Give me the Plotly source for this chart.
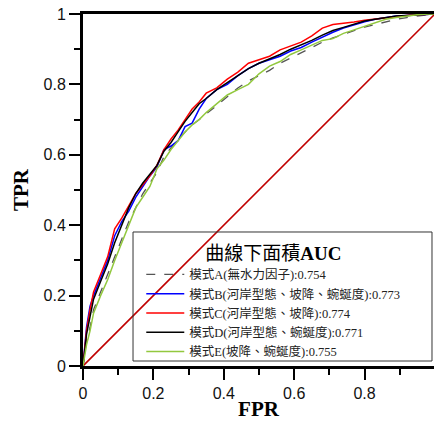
import plotly.graph_objects as go

fpr = [0, 0.01, 0.02, 0.03, 0.05, 0.07, 0.09, 0.11, 0.13, 0.15, 0.17, 0.19, 0.21, 0.23, 0.25,
       0.27, 0.29, 0.31, 0.33, 0.35, 0.38, 0.41, 0.44, 0.47, 0.50, 0.53, 0.56, 0.59, 0.62, 0.65,
       0.68, 0.71, 0.74, 0.77, 0.80, 0.83, 0.86, 0.89, 0.92, 0.95, 0.98, 1.0]

tpr_a = [0, 0.07, 0.11, 0.16, 0.21, 0.26, 0.31, 0.36, 0.41, 0.45, 0.49, 0.52, 0.55, 0.595, 0.62,
         0.645, 0.665, 0.685, 0.70, 0.715, 0.74, 0.765, 0.79, 0.81, 0.825, 0.84, 0.86, 0.875, 0.89, 0.905,
         0.92, 0.932, 0.943, 0.953, 0.963, 0.97, 0.978, 0.985, 0.99, 0.995, 0.998, 1.0]
tpr_b = [0, 0.11, 0.17, 0.20, 0.25, 0.30, 0.37, 0.41, 0.44, 0.48, 0.51, 0.54, 0.565, 0.615, 0.625,
         0.64, 0.68, 0.69, 0.73, 0.76, 0.785, 0.80, 0.825, 0.845, 0.86, 0.87, 0.88, 0.895, 0.905, 0.92,
         0.935, 0.948, 0.96, 0.97, 0.978, 0.985, 0.99, 0.994, 0.996, 0.998, 1.0, 1.0]
tpr_c = [0, 0.10, 0.16, 0.21, 0.26, 0.31, 0.39, 0.42, 0.455, 0.49, 0.515, 0.54, 0.57, 0.615, 0.645,
         0.67, 0.70, 0.73, 0.75, 0.775, 0.79, 0.815, 0.835, 0.86, 0.87, 0.88, 0.898, 0.91, 0.92, 0.938,
         0.96, 0.97, 0.973, 0.977, 0.982, 0.986, 0.99, 0.994, 0.996, 0.998, 1.0, 1.0]
tpr_d = [0, 0.09, 0.14, 0.19, 0.24, 0.29, 0.35, 0.40, 0.45, 0.49, 0.52, 0.545, 0.57, 0.61, 0.635,
         0.665, 0.695, 0.72, 0.745, 0.76, 0.785, 0.805, 0.825, 0.845, 0.86, 0.872, 0.885, 0.90, 0.912, 0.925,
         0.94, 0.953, 0.962, 0.972, 0.98, 0.985, 0.99, 0.994, 0.996, 0.998, 1.0, 1.0]
tpr_e = [0, 0.06, 0.10, 0.15, 0.20, 0.245, 0.30, 0.35, 0.40, 0.45, 0.48, 0.51, 0.56, 0.585, 0.615,
         0.64, 0.665, 0.685, 0.70, 0.72, 0.745, 0.77, 0.785, 0.80, 0.83, 0.852, 0.865, 0.885, 0.898, 0.912,
         0.925, 0.93, 0.945, 0.955, 0.965, 0.976, 0.985, 0.99, 0.995, 0.998, 1.0, 1.0]

diag = [0, 1]

names = ["模式A(無水力因子):0.754",
         "模式B(河岸型態、坡降、蜿蜒度):0.773",
         "模式C(河岸型態、坡降):0.774",
         "模式D(河岸型態、蜿蜒度):0.771",
         "模式E(坡降、蜿蜒度):0.755"]
legend_title = "曲線下面積<b>AUC</b>"
x_title = "FPR"
y_title = "TPR"
ticks = [0, 0.2, 0.4, 0.6, 0.8, 1]
tick_text = ["0", "0.2", "0.4", "0.6", "0.8", "1"]

fig = go.Figure()
fig.add_trace(go.Scatter(x=diag, y=diag, mode="lines", line=dict(color="#C00000", width=1.6),
                         showlegend=False, hoverinfo="skip"))
styles = [dict(color="#555555", width=1.3, dash="dash"),
          dict(color="#0000FF", width=1.5),
          dict(color="#FF0000", width=1.5),
          dict(color="#000000", width=1.5),
          dict(color="#92C83E", width=1.5)]
for yv, nm, st in zip([tpr_a, tpr_b, tpr_c, tpr_d, tpr_e], names, styles):
    fig.add_trace(go.Scatter(x=fpr, y=yv, mode="lines", name=nm, line=st))

serif = "Liberation Serif, Times New Roman, serif"
axis_common = dict(tickvals=ticks, ticktext=tick_text, ticks="outside",
                   ticklen=11, tickwidth=2, tickcolor="black", showline=True, linecolor="black",
                   linewidth=3, showgrid=False, zeroline=False,
                   tickfont=dict(size=16, color="#111111"),
                   minor=dict(dtick=0.1, tick0=0, ticks="outside", ticklen=6, tickwidth=2,
                              tickcolor="black", showgrid=False))

fig.update_layout(
    width=434, height=421,
    margin=dict(l=83, r=0, t=14, b=55),
    paper_bgcolor="white", plot_bgcolor="white",
    font=dict(family="Liberation Sans, Arial, sans-serif", color="black"),
    xaxis=dict(range=[0, 0.9972], mirror=True,
               title=dict(text=x_title, standoff=2,
                          font=dict(family=serif, size=21, weight="bold")),
               **axis_common),
    yaxis=dict(range=[0, 1], mirror=False,
               title=dict(text=y_title, standoff=10,
                          font=dict(family=serif, size=21, weight="bold")),
               **axis_common),
    legend=dict(x=0.166, y=0.372, xanchor="left", yanchor="top",
                bgcolor="rgba(0,0,0,0)", borderwidth=0,
                font=dict(family="Liberation Serif, Noto Sans CJK TC, serif", size=12.5, color="#222222"),
                itemwidth=38, tracegroupgap=0,
                title=dict(text=legend_title, side="top center",
                           font=dict(family="Liberation Serif, Noto Sans CJK TC, serif", size=19,
                                     color="black"))),
    shapes=[dict(type="rect", xref="paper", yref="paper",
                 x0=0.1425, x1=0.9943, y0=0.0142, y1=0.3807,
                 line=dict(color="#333333", width=1), fillcolor="rgba(0,0,0,0)", layer="above")],
)

fig.write_html("out.html", config={"displayModeBar": False},
               post_script="document.body.style.margin='0';document.body.style.overflow='hidden';")
